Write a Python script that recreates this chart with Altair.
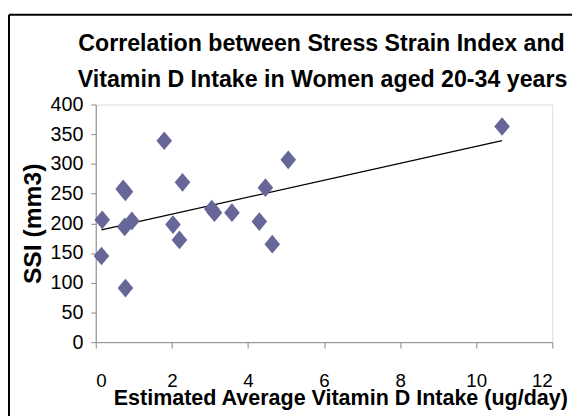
import altair as alt
import pandas as pd

# Estimated average vitamin D intake (ug/day)
vit_d = [0.17, 0.15, 0.72, 0.78, 0.76, 0.78, 0.95, 1.80, 2.28, 2.03, 2.20,
         3.05, 3.12, 3.58, 4.30, 4.46, 4.64, 5.06, 10.68]
# SSI (mm3)
ssi = [206, 145, 258, 253, 194, 91, 204, 339, 269, 198, 172,
       224, 218, 218, 203, 260, 165, 307, 363]

x_ticks = [0, 2, 4, 6, 8, 10, 12]
y_ticks = [0, 50, 100, 150, 200, 250, 300, 350, 400]

title_lines = ["Correlation between Stress Strain Index and",
               "Vitamin D Intake in Women aged 20-34 years"]

df = pd.DataFrame({"x": vit_d, "y": ssi})
one = pd.DataFrame({"k": [0]})

FONT = "Liberation Sans"

x_enc = alt.X("x:Q", scale=alt.Scale(domain=[0, 12], nice=False),
              axis=alt.Axis(values=x_ticks, title="Estimated Average Vitamin D Intake (ug/day)",
                            grid=False, domainColor="#888888", tickColor="#888888",
                            tickSize=6, labelPadding=24, labelFontSize=19, labelFont=FONT,
                            labelColor="black", labelOverlap=False,
                            titleFont=FONT, titleFontSize=21.8,
                            titleFontWeight="bold", titleColor="black",
                            titleX=248, titleY=63, titleAlign="center",
                            titleBaseline="alphabetic"))
y_enc = alt.Y("y:Q", scale=alt.Scale(domain=[0, 400], nice=False),
              axis=alt.Axis(values=y_ticks, title="SSI (mm3)", grid=False,
                            domainColor="#888888", tickColor="#888888", tickSize=5,
                            labelPadding=8, labelFontSize=20, labelFont=FONT,
                            labelColor="black", labelOverlap=False,
                            titleFont=FONT, titleFontSize=25,
                            titleFontWeight="bold", titleColor="black",
                            titleX=-64, titleBaseline="middle"))

points = alt.Chart(df).mark_point(
    shape="M0,-1.2L1,0L0,1.2L-1,0Z", filled=True, size=250, color="#666699", opacity=1
).encode(x=x_enc, y=y_enc)

trend = alt.Chart(df).transform_regression("x", "y").mark_line(
    color="black", strokeWidth=1.3
).encode(x=x_enc, y=y_enc)

frame_v = alt.Chart(one).mark_rule(color="black", strokeWidth=2).encode(
    x=alt.value(-88), y=alt.value(-91), y2=alt.value(400))
frame_h = alt.Chart(one).mark_rule(color="black", strokeWidth=2).encode(
    x=alt.value(-88), x2=alt.value(600), y=alt.value(-91))

title1 = alt.Chart(one).mark_text(
    text=title_lines[0], font=FONT, fontSize=23.5, fontWeight="bold",
    color="black", align="center", baseline="alphabetic"
).encode(x=alt.value(229), y=alt.value(-54))
title2 = alt.Chart(one).mark_text(
    text=title_lines[1], font=FONT, fontSize=23.5, fontWeight="bold",
    color="black", align="center", baseline="alphabetic"
).encode(x=alt.value(230), y=alt.value(-18))

chart = alt.layer(frame_v, frame_h, trend, points, title1, title2).properties(
    width=463, height=241,
    autosize=alt.AutoSizeParams(type="none"),
    padding={"left": 89, "top": 95, "right": 20, "bottom": 72},
).configure_view(stroke=None).configure_axis(labelOverlap=False).configure(background="white")

chart.save("out.html", embed_options={"renderer": "svg", "actions": False})
